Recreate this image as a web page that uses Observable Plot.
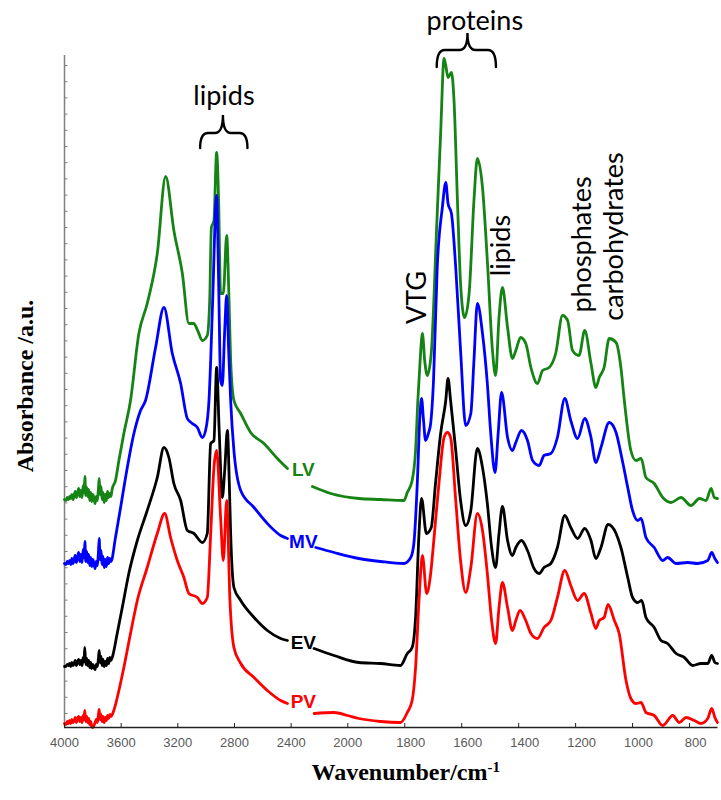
<!DOCTYPE html>
<html><head><meta charset="utf-8">
<script src="https://cdn.jsdelivr.net/npm/d3@7"></script>
<script src="https://cdn.jsdelivr.net/npm/@observablehq/plot@0.6"></script>
<style>body{margin:0;background:#fff;}</style>
</head><body><div id="chart"></div>
<script>
// ---- data ----
const seriesNames = ["LV", "MV", "EV", "PV"];
const seriesColors = ["#158415", "#0000ff", "#000000", "#ff0000"];
const xTickValues = [4000, 3600, 3200, 2800, 2400, 2000, 1800, 1600, 1400, 1200, 1000, 800];

const LV = [[4000,2.28],[3990,2.27],[3980,2.30],[3972,2.28],[3964,2.31],[3956,2.29],[3948,2.33],[3940,2.28],[3932,2.32],[3924,2.36],[3916,2.30],[3908,2.34],[3900,2.39],[3892,2.31],[3884,2.37],[3876,2.30],[3868,2.42],[3862,2.35],[3856,2.51],[3850,2.32],[3843,2.40],[3836,2.31],[3829,2.38],[3822,2.27],[3815,2.35],[3808,2.26],[3800,2.33],[3792,2.29],[3784,2.24],[3776,2.31],[3768,2.27],[3761,2.38],[3755,2.49],[3749,2.33],[3742,2.41],[3735,2.28],[3728,2.35],[3720,2.25],[3712,2.33],[3704,2.27],[3696,2.36],[3688,2.30],[3680,2.34],[3672,2.31],[3664,2.38],
[3640,2.47],[3616,2.67],[3581,2.94],[3534,3.27],[3475,3.94],[3416,4.24],[3345,4.74],[3286,5.51],[3228,4.97],[3168,4.54],[3122,4.04],[3088,4.04],[3060,3.97],[3027,3.87],[2992,3.92],[2975,4.27],[2963,5.00],[2945,5.07],[2926,5.75],[2912,5.27],[2898,4.34],[2879,4.34],[2855,4.92],[2839,4.30],[2827,3.67],[2804,3.27],[2756,3.14],[2686,2.95],[2592,2.84],[2497,2.69],[2426,2.59],[2340,NaN],[2250,2.41],[2120,2.34],[1961,2.29],[1885,2.28],[1803,2.27],[1791,2.35],[1774,2.47],[1762,2.77],[1754,3.27],[1746,3.67],[1738,3.94],[1730,3.67],[1721,3.52],[1707,3.74],[1688,5.00],[1674,5.94],[1662,6.69],[1656,6.62],[1648,6.50],[1636,6.55],[1627,6.27],[1615,5.27],[1604,4.44],[1590,4.10],[1574,4.34],[1557,5.27],[1545,5.69],[1527,5.40],[1510,4.67],[1492,3.77],[1481,3.52],[1469,4.10],[1457,4.40],[1439,4.00],[1422,3.69],[1410,3.77],[1393,3.90],[1375,3.84],[1357,3.60],[1334,3.44],[1316,3.57],[1293,3.60],[1270,3.74],[1246,4.12],[1228,4.07],[1211,3.77],[1188,3.72],[1168,3.97],[1146,3.64],[1129,3.40],[1117,3.50],[1100,3.60],[1082,3.89],[1058,3.85],[1041,3.60],[1029,3.27],[1006,2.77],[988,2.67],[970,2.69],[953,2.50],[924,2.44],[894,2.30],[865,2.25],[830,2.30],[795,2.22],[765,2.29],[742,2.27],[724,2.39],[713,2.30],[702,2.29]];

const MV = [[4000,1.64],[3990,1.63],[3980,1.66],[3972,1.64],[3964,1.67],[3956,1.63],[3948,1.69],[3940,1.64],[3932,1.68],[3924,1.72],[3916,1.65],[3908,1.70],[3900,1.75],[3892,1.66],[3884,1.73],[3876,1.65],[3868,1.78],[3862,1.70],[3856,1.86],[3850,1.66],[3843,1.76],[3836,1.65],[3829,1.73],[3822,1.62],[3815,1.70],[3808,1.61],[3800,1.68],[3792,1.64],[3784,1.59],[3776,1.66],[3768,1.62],[3761,1.74],[3755,1.89],[3749,1.68],[3742,1.77],[3735,1.63],[3728,1.71],[3720,1.60],[3712,1.68],[3704,1.61],[3696,1.70],[3688,1.64],[3680,1.69],[3672,1.66],
[3640,1.90],[3604,2.20],[3569,2.50],[3510,2.94],[3463,3.17],[3428,3.27],[3357,3.80],[3298,4.20],[3239,3.74],[3180,3.44],[3133,3.09],[3098,3.04],[3062,3.00],[3027,2.90],[3004,2.97],[2980,3.27],[2968,3.67],[2954,4.27],[2926,5.32],[2912,4.47],[2898,3.47],[2886,3.42],[2869,3.97],[2855,4.32],[2841,3.77],[2827,3.27],[2804,2.77],[2756,2.37],[2662,2.20],[2568,2.04],[2474,1.92],[2426,1.89],[2330,NaN],[2226,1.80],[2097,1.75],[1961,1.69],[1885,1.66],[1803,1.64],[1779,1.70],[1768,1.84],[1756,2.44],[1747,3.10],[1741,3.29],[1734,3.07],[1727,2.87],[1716,2.95],[1709,3.04],[1699,3.47],[1686,4.60],[1668,5.20],[1656,5.45],[1648,5.24],[1636,5.14],[1621,4.60],[1604,3.77],[1586,3.02],[1568,3.14],[1557,3.67],[1545,4.24],[1527,3.94],[1510,3.44],[1498,2.94],[1483,2.55],[1472,2.94],[1460,3.35],[1439,2.90],[1422,2.77],[1410,2.85],[1390,2.97],[1369,2.87],[1351,2.67],[1328,2.62],[1311,2.72],[1287,2.74],[1264,2.90],[1238,3.29],[1217,3.07],[1193,2.89],[1168,3.09],[1146,2.90],[1129,2.65],[1111,2.80],[1082,3.05],[1058,2.95],[1041,2.74],[1017,2.40],[1000,2.17],[982,2.07],[970,2.09],[953,1.90],[924,1.80],[894,1.67],[877,1.70],[847,1.64],[806,1.65],[771,1.64],[736,1.67],[722,1.75],[711,1.69],[702,1.65]];

const EV = [[4000,0.61],[3990,0.61],[3980,0.63],[3972,0.62],[3964,0.64],[3956,0.61],[3948,0.65],[3940,0.62],[3932,0.64],[3924,0.67],[3916,0.62],[3908,0.66],[3900,0.68],[3892,0.63],[3884,0.67],[3876,0.62],[3868,0.70],[3862,0.66],[3857,0.80],[3850,0.63],[3843,0.69],[3836,0.62],[3829,0.67],[3822,0.60],[3815,0.65],[3808,0.59],[3800,0.63],[3792,0.60],[3784,0.58],[3776,0.63],[3768,0.61],[3761,0.68],[3755,0.77],[3749,0.65],[3742,0.71],[3735,0.62],[3728,0.68],[3720,0.61],[3712,0.66],[3704,0.62],[3696,0.69],[3688,0.64],[3680,0.70],[3672,0.67],
[3663,0.70],[3628,0.94],[3592,1.20],[3546,1.54],[3486,1.87],[3416,2.17],[3345,2.50],[3298,2.80],[3263,2.70],[3228,2.44],[3180,2.27],[3133,1.97],[3086,1.94],[3027,1.85],[2992,1.94],[2968,2.84],[2945,2.87],[2926,3.60],[2908,2.97],[2886,2.30],[2869,2.57],[2850,2.97],[2837,2.47],[2827,1.94],[2804,1.40],[2756,1.27],[2662,1.10],[2568,0.97],[2474,0.89],[2426,0.87],[2330,NaN],[2238,0.79],[2097,0.72],[1961,0.65],[1885,0.64],[1815,0.62],[1791,0.74],[1774,0.80],[1762,1.10],[1750,1.94],[1741,2.29],[1724,1.94],[1707,2.00],[1692,2.44],[1674,2.94],[1656,3.27],[1648,3.49],[1639,3.27],[1621,2.77],[1604,2.27],[1586,2.02],[1568,2.17],[1545,2.79],[1527,2.60],[1510,2.24],[1495,1.80],[1481,1.60],[1469,1.94],[1457,2.21],[1439,1.87],[1422,1.72],[1410,1.80],[1390,1.87],[1369,1.77],[1346,1.59],[1328,1.54],[1311,1.60],[1287,1.64],[1264,1.80],[1238,2.12],[1217,2.00],[1193,1.89],[1168,1.99],[1146,1.87],[1129,1.69],[1111,1.80],[1086,2.03],[1058,1.94],[1041,1.80],[1017,1.50],[1000,1.30],[982,1.25],[968,1.27],[953,1.10],[924,1.00],[900,0.87],[877,0.84],[847,0.74],[818,0.70],[789,0.62],[760,0.64],[736,0.64],[722,0.72],[711,0.65],[702,0.64]];

const PV = [[4000,0.04],[3990,0.03],[3980,0.06],[3972,0.04],[3964,0.07],[3956,0.04],[3948,0.08],[3940,0.05],[3932,0.07],[3924,0.10],[3916,0.05],[3908,0.09],[3900,0.11],[3892,0.06],[3884,0.10],[3876,0.05],[3868,0.12],[3862,0.08],[3857,0.17],[3850,0.06],[3843,0.11],[3836,0.05],[3829,0.09],[3822,0.03],[3815,0.06],[3808,0.01],[3800,0.00],[3792,0.02],[3784,0.05],[3776,0.08],[3768,0.05],[3761,0.12],[3755,0.18],[3749,0.08],[3742,0.13],[3735,0.06],[3728,0.11],[3720,0.05],[3712,0.10],[3704,0.07],[3696,0.12],[3688,0.09],[3680,0.13],[3672,0.11],
[3652,0.17],[3616,0.37],[3581,0.60],[3534,0.94],[3486,1.27],[3416,1.60],[3345,1.94],[3293,2.14],[3251,1.90],[3204,1.67],[3157,1.50],[3122,1.34],[3062,1.30],[3027,1.24],[2992,1.30],[2968,1.94],[2945,2.60],[2926,2.77],[2898,2.10],[2879,1.67],[2855,2.27],[2832,1.27],[2804,0.80],[2756,0.64],[2662,0.50],[2568,0.37],[2474,0.27],[2426,0.24],[2330,NaN],[2238,0.14],[2097,0.15],[2002,0.12],[1961,0.09],[1885,0.06],[1815,0.05],[1791,0.15],[1774,0.27],[1762,0.60],[1750,1.27],[1738,1.72],[1723,1.34],[1709,1.54],[1698,1.87],[1680,2.44],[1662,2.90],[1650,2.95],[1639,2.90],[1621,2.27],[1604,1.67],[1586,1.35],[1568,1.60],[1545,2.14],[1527,1.97],[1510,1.54],[1495,1.07],[1481,0.84],[1469,1.20],[1457,1.45],[1439,1.20],[1422,0.97],[1410,1.07],[1395,1.17],[1375,1.07],[1357,0.94],[1334,0.89],[1311,1.00],[1287,1.07],[1264,1.30],[1238,1.57],[1217,1.42],[1193,1.27],[1170,1.34],[1146,1.14],[1129,0.99],[1117,1.07],[1100,1.10],[1086,1.23],[1064,1.07],[1047,0.94],[1023,0.47],[1006,0.29],[988,0.24],[970,0.25],[953,0.15],[924,0.12],[894,0.02],[859,0.12],[836,0.05],[812,0.10],[783,0.07],[760,0.04],[736,0.09],[722,0.19],[711,0.10],[702,0.05]];

// annotation placement (data coordinates)
const seriesLabelWn = 2314;
const seriesLabelAbs = [2.575, 1.86, 0.85, 0.26];
const annotations = [
  {text: "lipids", wn: 2874, abs: 6.31, rotate: 0},
  {text: "proteins", wn: 1554, abs: 7.06, rotate: 0},
  {text: "VTG", wn: 1755, abs: 4.30, rotate: -90},
  {text: "lipids", wn: 1461, abs: 4.82, rotate: -90},
  {text: "phosphates", wn: 1177, abs: 4.83, rotate: -90},
  {text: "carbohydrates", wn: 1065, abs: 4.91, rotate: -90}
];
const braces = [
  {x1: 3039, x2: 2705, xc: 2878, top: 6.12, mid: 5.94, bottom: 5.79},
  {x1: 1686, x2: 1478, xc: 1578, top: 6.94, mid: 6.77, bottom: 6.60}
];

// ---- build ----
const seriesData = [LV, MV, EV, PV];
const rows = [];
seriesNames.forEach((name, i) => seriesData[i].forEach(([wn, a]) => rows.push({series: name, wn, abs: a})));
const yTicks = d3.range(0.14, 6.70, 0.162);
const xLeft = xTickValues.filter(d => d >= 2000);
const xRight = xTickValues.filter(d => d < 2000);
const tickFont = "'Liberation Sans', Arial, sans-serif";

function braceMark(index, scales) {
  const {x, y} = scales;
  const g = d3.create("svg:g").attr("fill", "none").attr("stroke", "#000").attr("stroke-width", 2.4).attr("stroke-linecap", "round");
  for (const b of braces) {
    const L = x(b.x1), R = x(b.x2), C = x(b.xc), T = y(b.top), M = y(b.mid), B = y(b.bottom);
    const r = 8;
    g.append("path").attr("d",
      `M${L},${B} Q${L},${M} ${L + r},${M} L${C - r},${M} Q${C},${M} ${C},${T} Q${C},${M} ${C + r},${M} L${R - r},${M} Q${R},${M} ${R},${B}`);
  }
  return g.node();
}

function axisTitles(index, scales, values, dims) {
  const g = d3.create("svg:g")
    .attr("font-family", "'Liberation Serif', 'Times New Roman', serif")
    .attr("font-weight", "bold").attr("font-size", 24).attr("fill", "#000");
  const cx = (dims.marginLeft + dims.width - dims.marginRight) / 2 + 15;
  const xt = g.append("text").attr("x", cx).attr("y", dims.height - 20).attr("text-anchor", "middle");
  xt.append("tspan").text("Wavenumber/cm");
  xt.append("tspan").attr("dy", "-0.55em").attr("font-size", 15).text("-1");
  const cy = (dims.marginTop + dims.height - dims.marginBottom) / 2 - 5;
  g.append("text").attr("transform", `translate(${dims.marginLeft - 31},${cy}) rotate(-90)`)
    .attr("text-anchor", "middle").text("Absorbance /a.u.");
  return g.node();
}

const chart = Plot.plot({
  width: 721, height: 800,
  marginLeft: 64, marginRight: 3.5, marginTop: 55, marginBottom: 73,
  style: {background: "#fff", overflow: "visible"},
  x: {type: "linear", domain: [4000, 2000, 700], range: [64, 347.3, 717.5], axis: null},
  y: {domain: [0, 6.72], range: [727, 55], axis: null},
  color: {domain: seriesNames, range: seriesColors},
  marks: [
    Plot.ruleX([4000], {y1: 0, y2: 6.72, stroke: "#808080", strokeWidth: 1.5}),
    Plot.ruleY(yTicks, {x1: 4000, x2: 3975, stroke: "#808080"}),
    Plot.line(rows, {x: "wn", y: "abs", z: "series", stroke: "series", strokeWidth: 2.8, curve: "monotone-x", strokeLinejoin: "round"}),
    Plot.ruleY([0], {x1: 4000, x2: 700, stroke: "#222", strokeWidth: 1.5}),
    Plot.ruleX(xTickValues, {y1: 0, y2: 0.04, stroke: "#222"}),
    Plot.text(xLeft, {x: d => d, y: 0, dy: 15, text: d => String(d), fill: "#595959", fontSize: 13, fontFamily: tickFont, lineAnchor: "middle"}),
    Plot.text(xRight, {x: d => d, y: 0, dy: 15, dx: 6, text: d => String(d), fill: "#595959", fontSize: 13, fontFamily: tickFont, lineAnchor: "middle"}),
    Plot.text(seriesNames, {x: () => seriesLabelWn, y: (d, i) => seriesLabelAbs[i], text: d => d, fill: d => d, fontSize: 19, fontWeight: "bold", fontFamily: tickFont, lineAnchor: "middle"}),
    Plot.text(annotations, {x: "wn", y: "abs", text: "text", rotate: "rotate", fontSize: 27, fontFamily: "Lato, 'Open Sans', sans-serif", fill: "#000", lineAnchor: "middle"}),
    braceMark,
    axisTitles
  ]
});
document.getElementById("chart").appendChild(chart);
</script>
</body></html>
